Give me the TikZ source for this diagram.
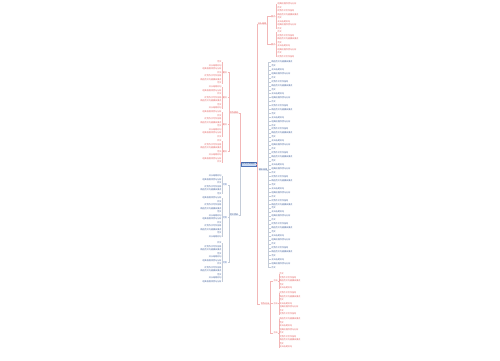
\documentclass[tikz,border=0pt]{standalone}
\usepackage{fontspec}
\newfontfamily\cjk{Noto Sans CJK SC}
\usetikzlibrary{positioning}
\definecolor{mapred}{HTML}{E25F5F}
\definecolor{mapblue}{HTML}{4F73B8}
\definecolor{rootfill}{HTML}{C9DAF3}
\definecolor{linkgray}{HTML}{C4CCD8}
\newcommand{\leafword}[1]{\ifcase#1 优秀作文写作指导\or 精选范文内容摘录要点\or 范文\or 开头结尾好句\or 经典段落欣赏与分析\or 作文\fi}

\begin{document}
\begin{tikzpicture}[x=1pt, y=-1pt,
    every node/.style={font=\cjk\fontsize{2.1}{2.5}\selectfont, inner sep=0.3pt},
    rootbox/.style={draw=mapblue, fill=rootfill, text=mapblue!70!black, line width=0.3pt, minimum width=15, minimum height=4},
    topicred/.style={text=mapred, fill=mapred!12},
    topicblue/.style={text=mapblue!80!black, fill=mapblue!10},
    subred/.style={text=mapred},
    subblue/.style={text=mapblue},
    leafred/.style={text=mapred},
    leafblue/.style={text=mapblue!85!black},
    linkred/.style={draw=mapred!45, line width=0.25pt},
    linkblue/.style={draw=linkgray, line width=0.25pt}]
    \useasboundingbox (0,0) rectangle (500,360);
    \fill[white] (0,0) rectangle (500,360);
    % Root
    \node[rootbox] (root) at (248.5,164) {作文范文精选};
    % Main topics
    \node[topicred] (A) at (234,113) {写作素材};
    \node[topicblue] (B) at (234,215) {范文赏析};
    \node[topicred] (C) at (262,24) {开头结尾};
    \node[topicblue] (D) at (263,170) {精彩段落};
    \node[topicred] (E) at (265,304) {写作方法};
    \draw[linkred] (root.west) -- ++(-0.8,0) |- (A.east);
    \draw[linkblue] (root.west) -- ++(-0.8,0) |- (B.east);
    \draw[linkred] (root.east) -- ++(0.6,0) |- (C.west);
    \draw[linkblue] (root.east) -- ++(0.6,0) |- (D.west);
    \draw[linkred] (root.east) -- ++(0.6,0) |- (E.west);
    % Left upper branch
    \foreach \s/\ys/\n in {1/62/7, 2/87/7, 3/112/8, 4/141/7} {
        \pgfmathsetmacro\ym{\ys+(\n-1)*1.75}
        \node[subred, anchor=east] (A\s) at (227.5,\ym) {要点};
        \draw[linkred] (A.west) -- ++(-0.4,0) |- (A\s.east);
        \foreach \j in {1,...,\n} {
            \pgfmathsetmacro\yl{\ys+(\j-1)*3.5}
            \pgfmathtruncatemacro\k{mod(\j+\s,6)}
            \node[leafred, anchor=east] (A\s-\j) at (222,\yl) {\leafword{\k}};
            \draw[linkred] (A\s.west) -- ++(-0.5,0) |- (A\s-\j.east);
        }
    }
    % Left lower branch
    \foreach \s/\ys/\n in {1/176/6, 2/198/12, 3/243/12} {
        \pgfmathsetmacro\ym{\ys+(\n-1)*1.75}
        \node[subblue, anchor=east] (B\s) at (227.5,\ym) {范例};
        \draw[linkblue] (B.west) -- ++(-0.4,0) |- (B\s.east);
        \foreach \j in {1,...,\n} {
            \pgfmathsetmacro\yl{\ys+(\j-1)*3.5}
            \pgfmathtruncatemacro\k{mod(\j+\s+1,6)}
            \node[leafblue, anchor=east] (B\s-\j) at (222,\yl) {\leafword{\k}};
            \draw[linkblue] (B\s.west) -- ++(-0.5,0) |- (B\s-\j.east);
        }
    }
    % Right upper branch
    \foreach \s/\ys/\n in {1/4/8, 2/32/8} {
        \pgfmathsetmacro\ym{\ys+(\n-1)*1.75}
        \node[subred, anchor=west] (C\s) at (270.5,\ym) {要点};
        \draw[linkred] (C.east) -- ++(0.5,0) |- (C\s.west);
        \foreach \j in {1,...,\n} {
            \pgfmathsetmacro\yl{\ys+(\j-1)*3.5}
            \pgfmathtruncatemacro\k{mod(\j+\s+2,6)}
            \node[leafred, anchor=west] (C\s-\j) at (277,\yl) {\leafword{\k}};
            \draw[linkred] (C\s.east) -- ++(0.6,0) |- (C\s-\j.west);
        }
    }
    % Right middle branch
    \foreach \j in {1,...,53} {
        \pgfmathsetmacro\yl{62+(\j-1)*3.95}
        \pgfmathtruncatemacro\k{mod(\j,6)}
        \node[leafblue, anchor=west] (D-\j) at (271,\yl) {\leafword{\k}};
        \draw[linkblue] (D.east) -- ++(0.8,0) |- (D-\j.west);
    }
    % Right lower branch
    \foreach \s/\ys/\n in {1/274/5, 2/293/7, 3/319/9} {
        \pgfmathsetmacro\ym{\ys+(\n-1)*1.75}
        \node[subred, anchor=west] (E\s) at (273,\ym) {方法};
        \draw[linkred] (E.east) -- ++(0.5,0) |- (E\s.west);
        \foreach \j in {1,...,\n} {
            \pgfmathsetmacro\yl{\ys+(\j-1)*3.5}
            \pgfmathtruncatemacro\k{mod(\j+\s+3,6)}
            \node[leafred, anchor=west] (E\s-\j) at (279,\yl) {\leafword{\k}};
            \draw[linkred] (E\s.east) -- ++(0.6,0) |- (E\s-\j.west);
        }
    }
\end{tikzpicture}
\end{document}
